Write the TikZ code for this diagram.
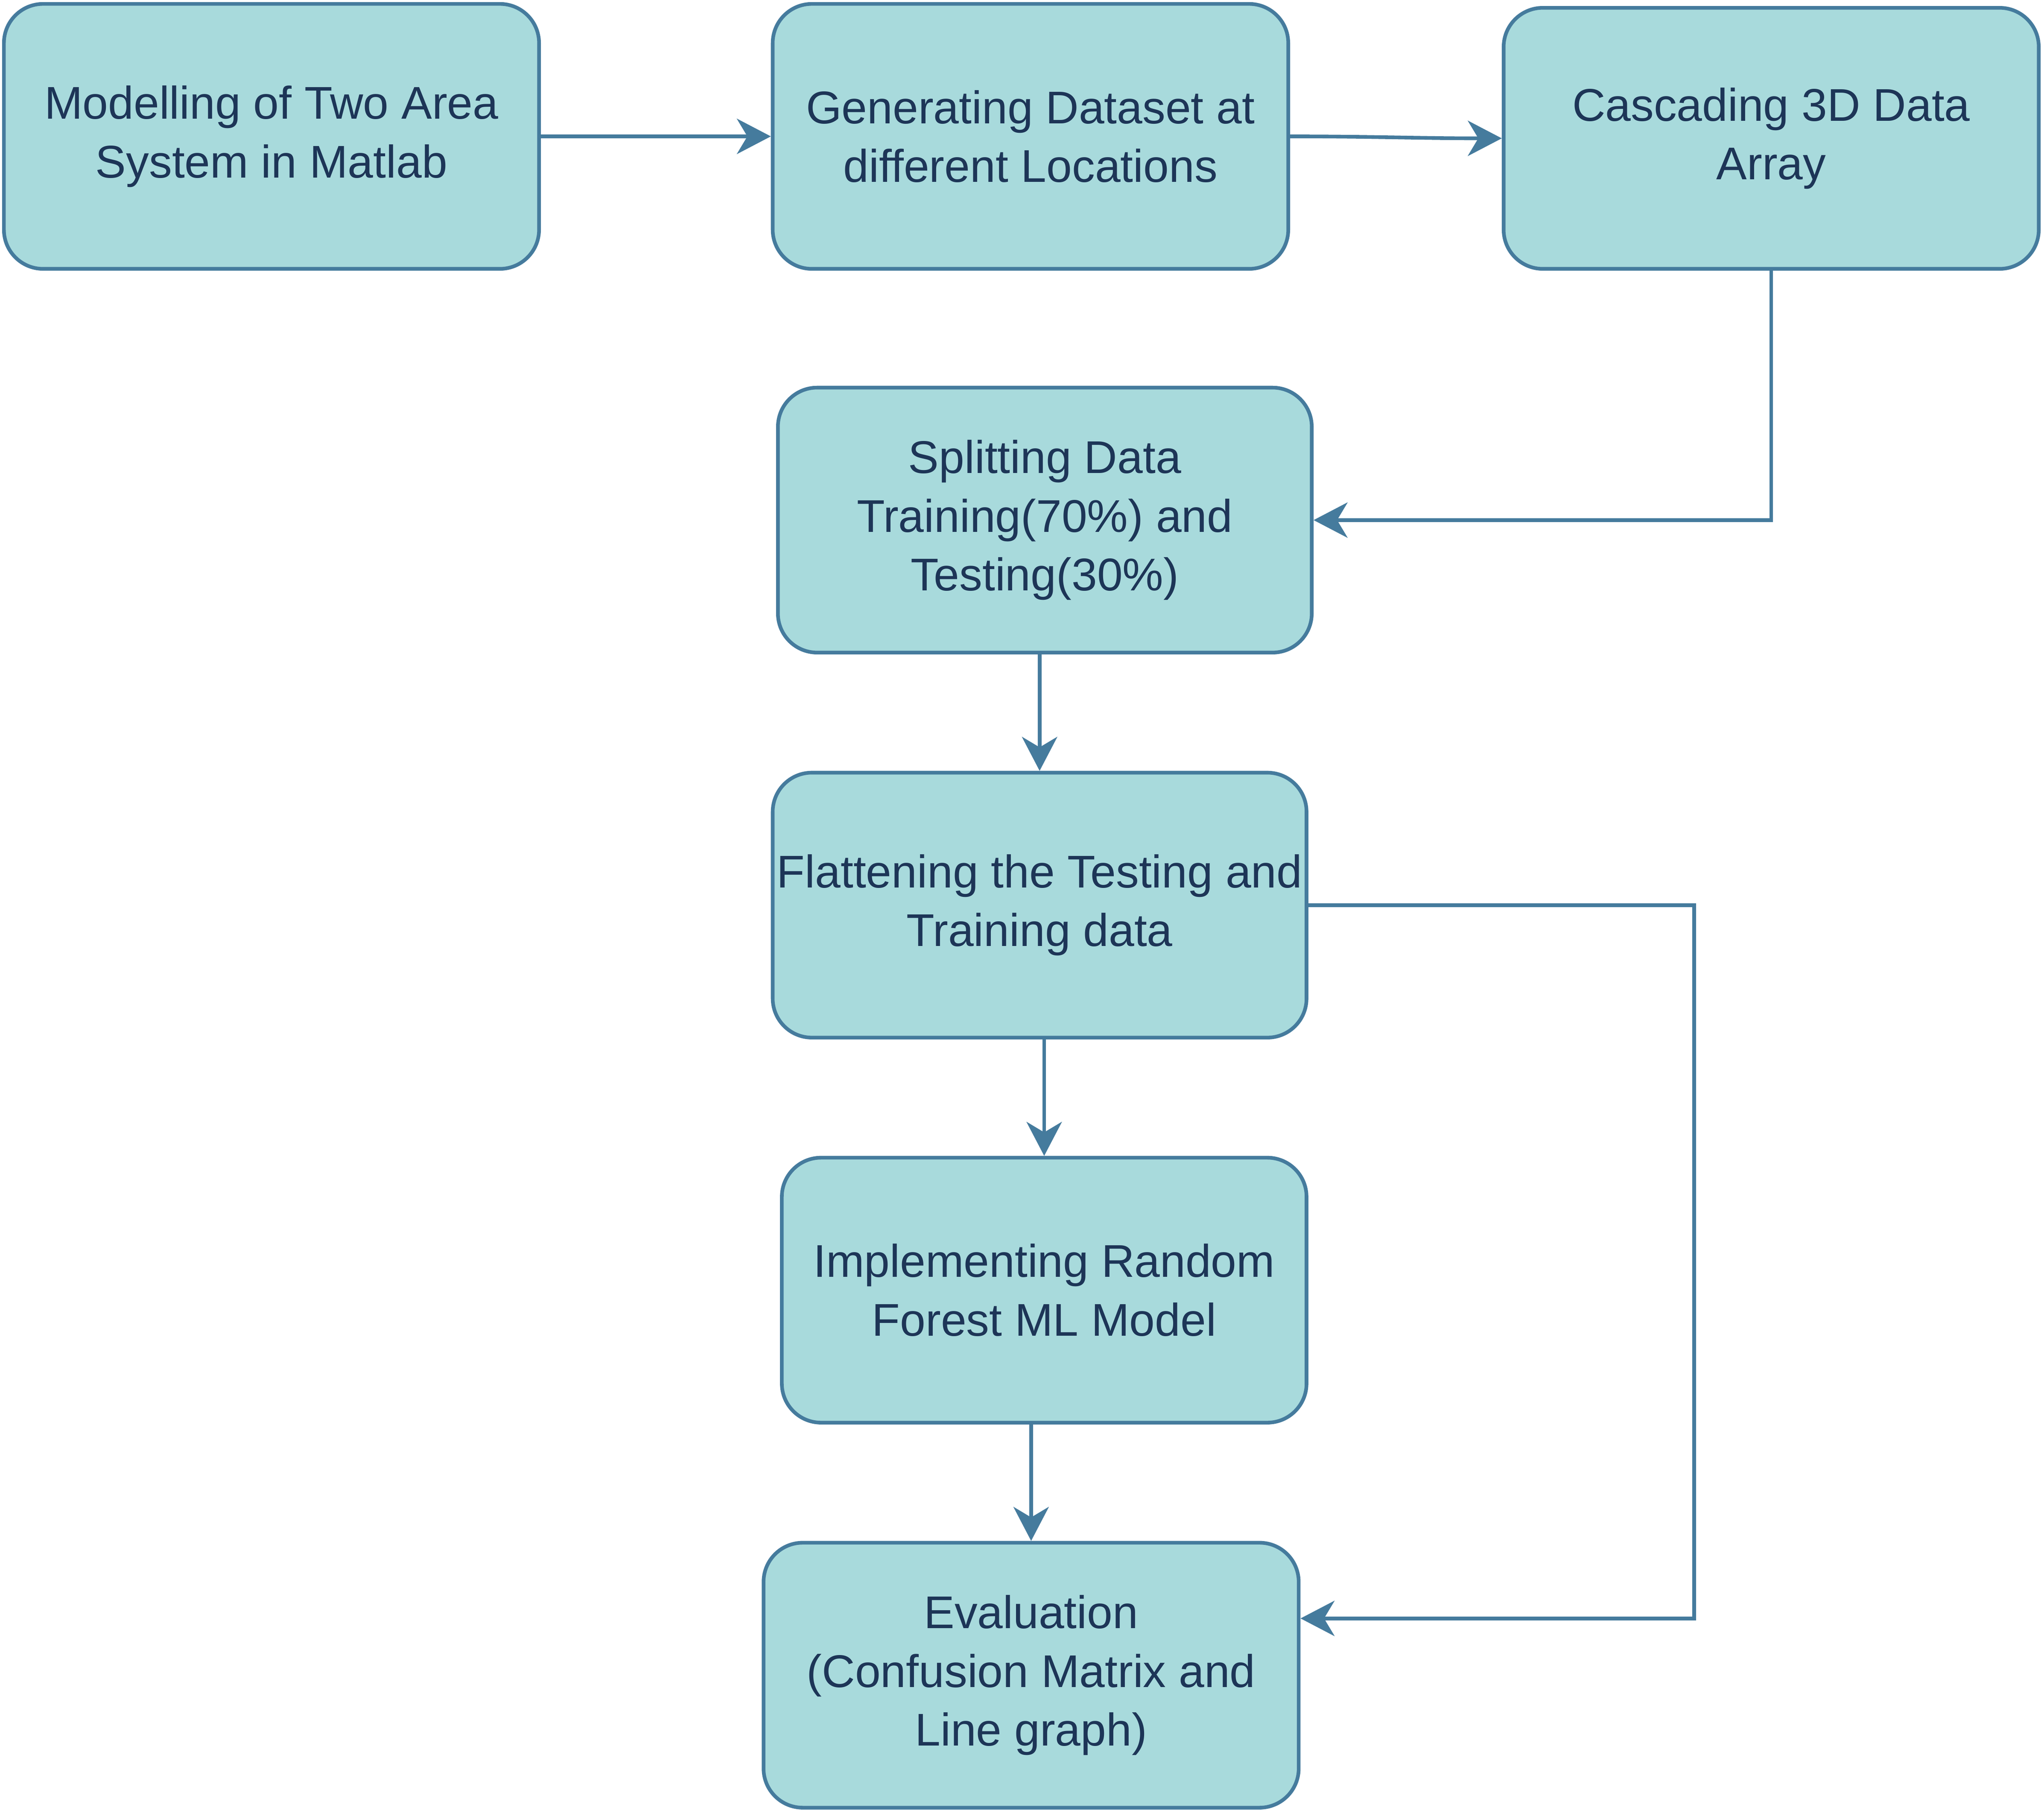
\documentclass[tikz,border=0pt]{standalone}
\usepackage{fontspec}
\setmainfont{Liberation Sans}
\usepackage{xcolor}
\usepackage{tikz}
\usetikzlibrary{positioning,arrows.meta,calc}
\definecolor{boxfill}{HTML}{A8DADC}
\definecolor{boxline}{HTML}{457B9D}
\definecolor{boxtext}{HTML}{1D3557}
\tikzset{
    process box/.style={rectangle, rounded corners=0.3cm, draw=boxline, fill=boxfill, line width=0.8pt,
        text=boxtext, align=center, inner sep=0pt, minimum height=2.03cm,
        font=\fontsize{10}{12.8}\selectfont},
    flow arrow/.style={-{Stealth[length=0.26cm, width=0.27cm, inset=0.08cm]}, line width=0.8pt, draw=boxline}
}
\begin{document}
\begin{tikzpicture}
    \useasboundingbox (0,0) rectangle (15.66,-13.865);
    % Top row
    \node[process box, minimum width=4.10cm] (model) at (2.08,-1.045) {Modelling of Two Area\\System in Matlab};
    \node[process box, minimum width=3.95cm] (gen) at (7.895,-1.045) {Generating Dataset at\\different Locations};
    \node[process box, minimum width=4.10cm, minimum height=2.00cm] (cas) at (13.57,-1.06) {Cascading 3D Data\\Array};

    % Middle column
    \node[process box, minimum width=4.09cm] (split) at (8.005,-3.985) {Splitting Data\\Training(70\%) and\\Testing(30\%)};
    \node[process box, minimum width=4.09cm] (flat) at (7.965,-6.935) {Flattening the Testing and\\Training data};
    \node[process box, minimum width=4.02cm] (impl) at (8.00,-9.885) {Implementing Random\\Forest ML Model};
    \node[process box, minimum width=4.10cm] (eval) at (7.90,-12.835) {Evaluation\\(Confusion Matrix and\\Line graph)};

    % Connections
    \draw[flow arrow] (model) -- (gen);
    \draw[flow arrow] (gen) to[out=0, in=180] (cas);
    \draw[flow arrow] (cas.south) |- (split.east);
    \draw[flow arrow] (split.south -| flat) -- (flat.north);
    \draw[flow arrow] (flat.south -| impl) -- (impl.north);
    \draw[flow arrow] (impl.south -| eval) -- (eval.north);

    % Feedback to evaluation
    \coordinate (turn) at (12.98,-12.40);
    \draw[flow arrow] (flat.east) -| (turn) -- (turn -| eval.east);
\end{tikzpicture}
\end{document}
